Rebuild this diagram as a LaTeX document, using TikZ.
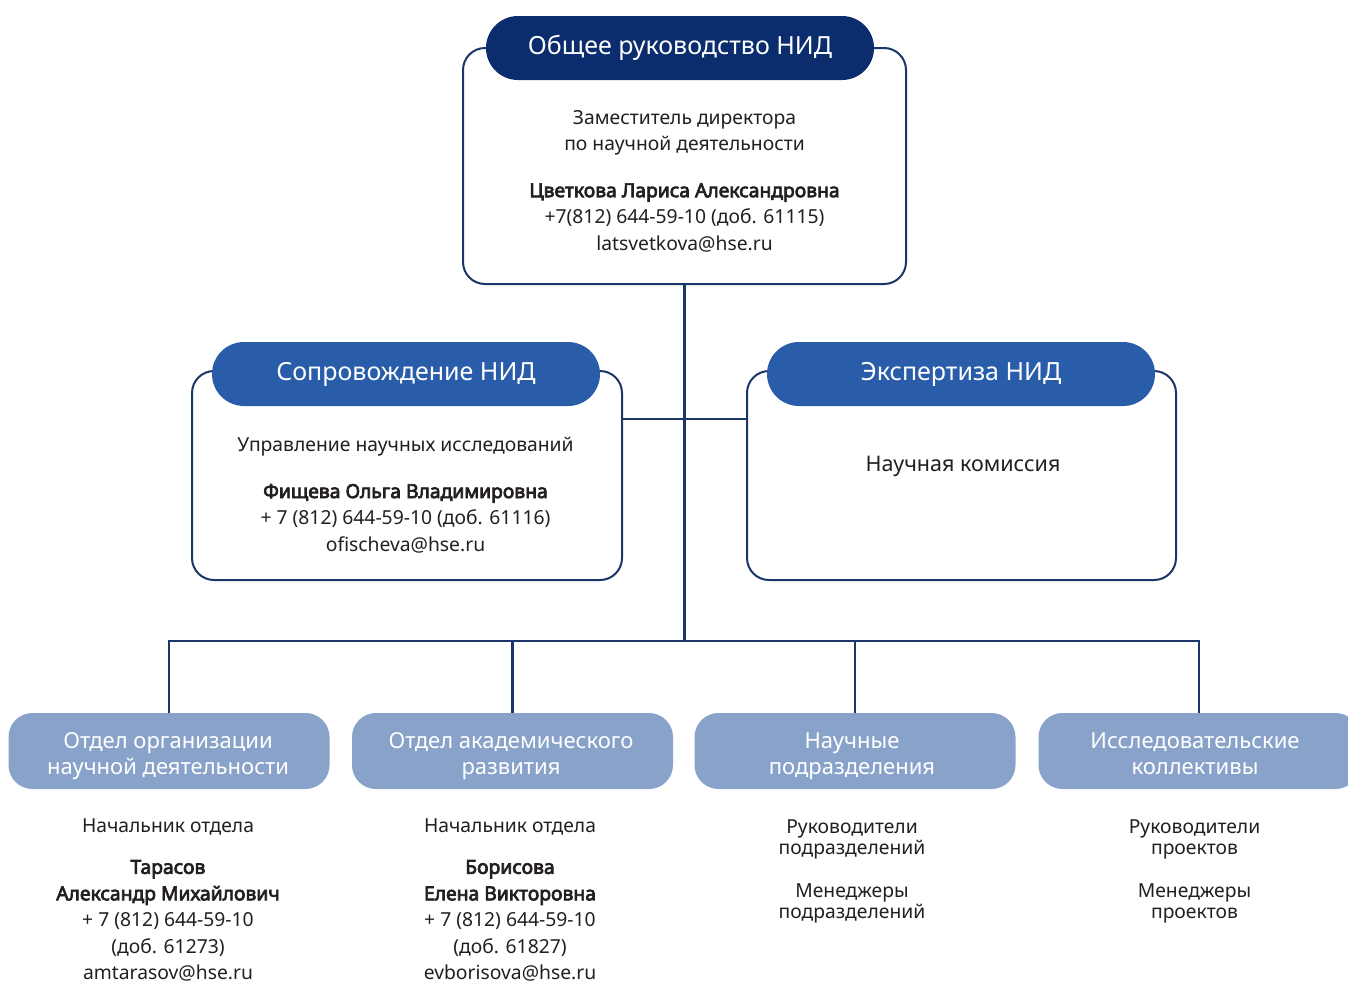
\documentclass[tikz,border=0pt]{standalone}
\usepackage{fontspec}
\setmainfont{Noto Sans}[AutoFakeBold=3.6]
\usetikzlibrary{calc}
\definecolor{navyc}{HTML}{0B2D6D}
\definecolor{midc}{HTML}{295DAA}
\definecolor{lightc}{HTML}{88A2C9}
\definecolor{linec}{HTML}{1B3668}
\definecolor{txtc}{HTML}{231F20}
\newcommand{\topstr}{\rule{0pt}{18pt}}
\newcommand{\botstr}{\rule[-8pt]{0pt}{8pt}}
\begin{document}
\begin{tikzpicture}[x=1pt,y=-1pt,
  outerbox/.style={draw=linec, line width=2pt, fill=white, rounded corners=22pt, inner sep=0pt},
  headpill/.style={rounded corners=32pt, inner sep=0pt, minimum width=388pt, minimum height=64pt, text=white, font=\fontsize{25}{30}\selectfont},
  botpill/.style={fill=lightc, rounded corners=24pt, inner sep=0pt, minimum width=321pt, minimum height=76pt},
  pilltxt/.style={text=white, align=center, inner sep=0pt, font=\fontsize{22}{26}\selectfont},
  bodytxt/.style={text=txtc, align=center, inner sep=0pt, font=\fontsize{19.3}{26.5}\selectfont},
  smalltxt/.style={text=txtc, align=center, inner sep=0pt, font=\fontsize{19.3}{21}\selectfont},
  conn/.style={draw=linec, line width=2.1pt}]
\useasboundingbox (0,0) rectangle (1348,983);
\fill[white] (0,0) rectangle (1348,983);

\coordinate (bus) at (684.5,641);
\coordinate (mid) at (684.5,419);

% top
\node[outerbox, minimum width=443pt, minimum height=236pt] (top) at (684.5,166) {};
\node[headpill, fill=navyc] (toph) at (680,48) {Общее руководство НИД};
\node[bodytxt] (topt) at (684.5,181) {Заместитель директора\\по научной деятельности\\[20pt]\textbf{Цветкова Лариса Александровна}\\+7(812) 644-59-10 (доб. 61115)\\latsvetkova@hse.ru};

% left
\node[outerbox, minimum width=430pt, minimum height=209pt] (lbox) at (407,475.5) {};
\node[headpill, fill=midc] (lh) at (406,374) {Сопровождение НИД};
\node[bodytxt] (lt) at (405.5,495) {Управление научных исследований\\[20pt]\textbf{Фищева Ольга Владимировна}\\+ 7 (812) 644-59-10 (доб. 61116)\\ofischeva@hse.ru};

% right
\node[outerbox, minimum width=429pt, minimum height=209pt] (rbox) at (961.5,475.5) {};
\node[headpill, fill=midc] (rh) at (961,374) {Экспертиза НИД};
\node[bodytxt, font=\fontsize{21.5}{26}\selectfont] (rt) at (963,466) {Научная комиссия};

% bottom pills
\node[botpill] (b1) at (169,751) {};
\node[botpill] (b2) at (512.5,751) {};
\node[botpill] (b3) at (855,751) {};
\node[botpill] (b4) at (1199,751) {};
\node[pilltxt] (b1t) at (168,756) {\topstr Отдел организации\\научной деятельности\botstr};
\node[pilltxt] (b2t) at (511,756) {\topstr Отдел академического\\развития\botstr};
\node[pilltxt] (b3t) at (852,756) {\topstr Научные\\подразделения\botstr};
\node[pilltxt] (b4t) at (1195,756) {\topstr Исследовательские\\коллективы\botstr};

% connectors
\draw[conn] (top.south) -- (bus);
\draw[conn] (lbox.east |- mid) -- (rbox.west |- mid);
\draw[conn] (b1.north) -- (b1.north |- bus) -- (b4.north |- bus) -- (b4.north);
\draw[conn] (b2.north) -- (b2.north |- bus);
\draw[conn] (b3.north) -- (b3.north |- bus);

% bottom texts
\node[bodytxt] (t1) at (168,900) {Начальник отдела\\[15pt]\textbf{Тарасов}\\\textbf{Александр Михайлович}\\+ 7 (812) 644-59-10\\(доб. 61273)\\amtarasov@hse.ru};
\node[bodytxt] (t2) at (510,900) {Начальник отдела\\[15pt]\textbf{Борисова}\\\textbf{Елена Викторовна}\\+ 7 (812) 644-59-10\\(доб. 61827)\\evborisova@hse.ru};
\node[smalltxt] (t3) at (852,871) {Руководители\\подразделений\\[22pt]Менеджеры\\подразделений};
\node[smalltxt] (t4) at (1194.5,871) {Руководители\\проектов\\[22pt]Менеджеры\\проектов};
\end{tikzpicture}
\end{document}
